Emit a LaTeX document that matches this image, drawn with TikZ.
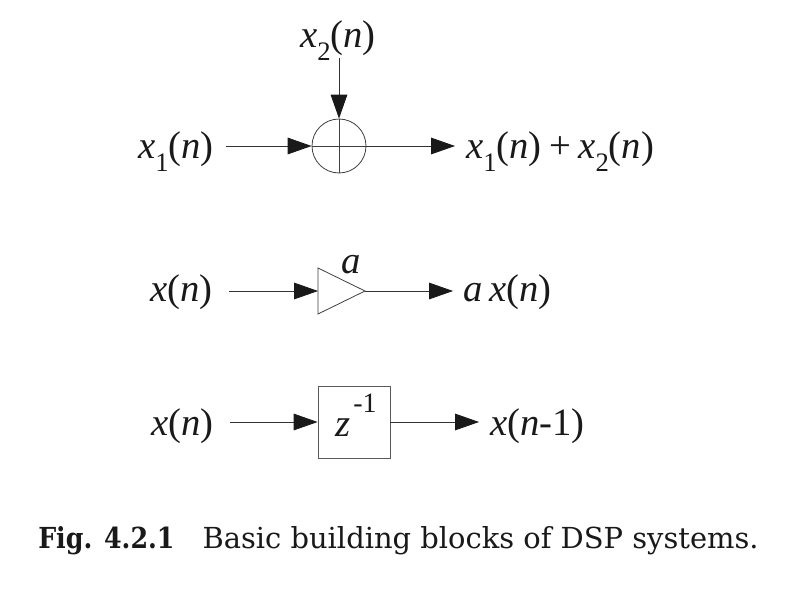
\documentclass[tikz,border=0pt]{standalone}
\usepackage{graphicx}
\usepackage{fontspec}
\setmainfont{Liberation Serif}
\newfontfamily\capfont{DejaVu Serif}
\usetikzlibrary{arrows.meta}
\newcommand{\vv}[1]{\textit{#1}}
\newcommand{\subs}[1]{\raisebox{-0.36em}{\fontsize{20}{20}\selectfont #1}}
\tikzset{
  x=0.75pt,y=-0.75pt,
  wire/.style={draw=black!80,line width=0.6pt,-{Triangle[length=18pt,width=12.5pt,inset=0pt,fill=black!90,color=black!90]},shorten >=0pt},
  block/.style={draw=black!75,line width=0.6pt,fill=none},
  lbl/.style={inner sep=0pt,font=\fontsize{29}{32}\selectfont,text=black!90},
  captext/.style={inner sep=0pt,font=\fontsize{21.7}{26}\capfont,text=black!90}
}
\begin{document}
\begin{tikzpicture}
\useasboundingbox (0,0) rectangle (786,596);
\fill[white] (0,0) rectangle (786,596);
% adder
\coordinate (c) at (339,146);
\node[block,circle,minimum size=40.5pt,inner sep=0pt] (add) at (c) {};
\node[lbl,anchor=base] (x2) at (338,47) {\vv{x}\subs{2}(\vv{n})};
\node[lbl,anchor=base west] (x1) at (138,158) {\vv{x}\subs{1}(\vv{n})};
\node[lbl,anchor=base west] (sum) at (466,158) {\vv{x}\subs{1}(\vv{n})\hspace{0.19em}+\hspace{0.19em}\vv{x}\subs{2}(\vv{n})};
\coordinate (x1e) at (226,146);
\coordinate (x2e) at (339,58);
\coordinate (sume) at (455,146);
\draw[wire] (x1e) -- (add.west);
\draw[wire] (x2e) -- (add.north);
\draw[wire] (add.east) -- (sume);
\draw[block] (add.west) -- (add.east) (add.north) -- (add.south);
% gain
\coordinate (t1) at (318,268);
\coordinate (t2) at (318,314);
\coordinate (t3) at (365,291);
\coordinate (tw) at (318,291);
\draw[block] (t1) -- (t2) -- (t3) -- cycle;
\node[lbl,anchor=base] (gain) at (351,273) {\vv{a}};
\node[lbl,anchor=base west] (gi) at (150,301) {\vv{x}(\vv{n})};
\node[lbl,anchor=base west] (go) at (463,301) {\vv{a}\,\vv{x}(\vv{n})};
\coordinate (gie) at (229,291);
\coordinate (goe) at (453,291);
\draw[wire] (gie) -- (tw);
\draw[wire] (t3) -- (goe);
% delay
\node[block,draw=black!65,minimum width=54pt,minimum height=54pt,inner sep=0pt] (d) at (354,422) {};
\node[lbl,anchor=base] (dl) at (356,436) {\vv{z}\hspace{0.08em}\raisebox{0.6em}{\fontsize{21}{21}\selectfont -1}};
\node[lbl,anchor=base west] (di) at (151,435) {\vv{x}(\vv{n})};
\node[lbl,anchor=base west] (do) at (490,435) {\vv{x}(\vv{n}-1)};
\coordinate (die) at (230,422);
\coordinate (doe) at (479,422);
\draw[wire] (die) -- (d.west);
\draw[wire] (d.east) -- (doe);
% caption
\node[captext,anchor=base west] (capa) at (38,548) {\scalebox{0.875}[1]{\textbf{Fig. 4.2.1}}\hspace{21pt}Basic building blocks of DSP systems.};
\end{tikzpicture}
\end{document}
